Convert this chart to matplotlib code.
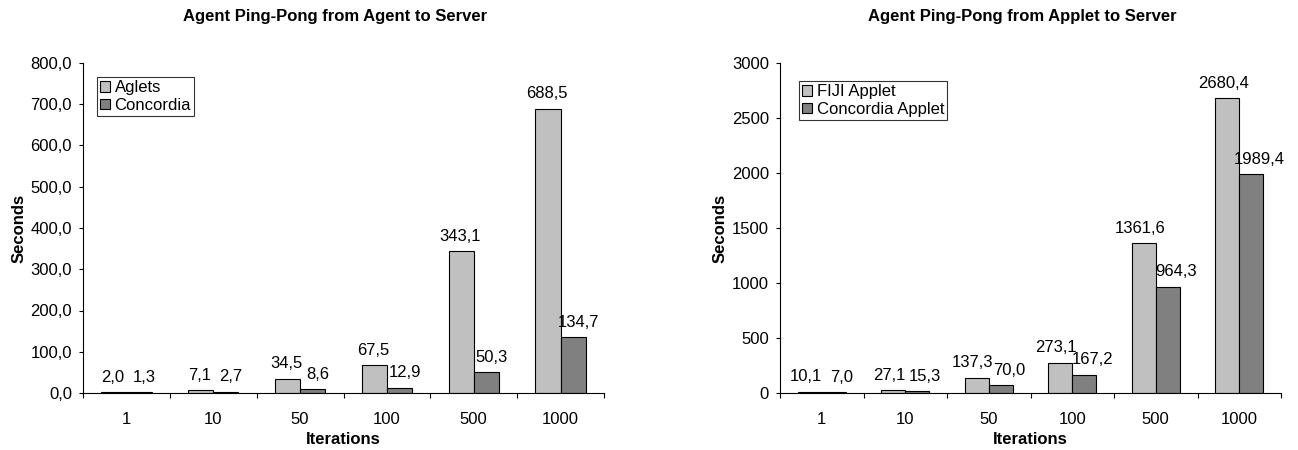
import numpy as np
import matplotlib.pyplot as plt

plt.rcParams['font.family'] = ['Liberation Sans', 'DejaVu Sans']

iterations = ['1', '10', '50', '100', '500', '1000']

aglets = [2.0, 7.1, 34.5, 67.5, 343.1, 688.5]
concordia = [1.3, 2.7, 8.6, 12.9, 50.3, 134.7]

fiji_applet = [10.1, 27.1, 137.3, 273.1, 1361.6, 2680.4]
concordia_applet = [7.0, 15.3, 70.0, 167.2, 964.3, 1989.4]

LIGHT = '#c0c0c0'
DARK = '#808080'
FS = 12


def comma(v):
    return f"{v:.1f}".replace('.', ',')


def draw(ax, a, b, names, title, ymax, ystep, ylabfmt, leg_pos, shift):
    x = np.arange(len(iterations))
    w = 0.29
    ba = ax.bar(x - w / 2, a, w, color=LIGHT, edgecolor='black', linewidth=0.8, label=names[0])
    bb = ax.bar(x + w / 2, b, w, color=DARK, edgecolor='black', linewidth=0.8, label=names[1])
    for bar, v in zip(ba, a):
        ax.annotate(comma(v), (bar.get_x() + bar.get_width() / 2, v),
                    xytext=(-shift[0], 15), textcoords='offset pixels',
                    ha='center', va='center', fontsize=FS)
    for bar, v in zip(bb, b):
        ax.annotate(comma(v), (bar.get_x() + bar.get_width() / 2, v),
                    xytext=(shift[1], 15), textcoords='offset pixels',
                    ha='center', va='center', fontsize=FS)
    ax.set_xlim(-0.5, len(iterations) - 0.5)
    ax.set_ylim(0, ymax)
    yt = np.arange(0, ymax + 1, ystep)
    ax.set_yticks(yt)
    ax.set_yticklabels([ylabfmt(t) for t in yt], fontsize=FS)
    # group separators as major ticks, category names as minor ticks
    ax.set_xticks(np.arange(len(iterations) + 1) - 0.5)
    ax.set_xticklabels([])
    ax.tick_params(axis='x', which='major', direction='out', length=3.6, width=0.8)
    ax.set_xticks(x, minor=True)
    ax.set_xticklabels(iterations, minor=True, fontsize=FS)
    ax.tick_params(axis='x', which='minor', length=0, pad=14)
    ax.tick_params(axis='y', direction='out', length=3, width=0.8, pad=5)
    ax.spines['top'].set_visible(False)
    ax.spines['right'].set_visible(False)
    ax.spines['left'].set_linewidth(0.8)
    ax.spines['bottom'].set_linewidth(0.8)
    ax.set_xlabel('Iterations', fontsize=FS, fontweight='bold', labelpad=3)
    ax.set_ylabel('Seconds', fontsize=FS, fontweight='bold', labelpad=3)
    leg = ax.legend(loc='upper left', bbox_to_anchor=leg_pos, fontsize=FS,
                    frameon=True, fancybox=False, edgecolor='black',
                    handlelength=0.6, handleheight=0.6, handletextpad=0.25,
                    borderpad=0.2, labelspacing=0.15, borderaxespad=0)
    leg.get_frame().set_linewidth(0.8)
    pos = ax.get_position()
    fig.text(pos.x0 + pos.width / 2 - 8 / 1298, 1 - 17 / 450, title,
             ha='center', va='center', fontsize=FS, fontweight='bold')


fig = plt.figure(figsize=(12.98, 4.5), dpi=100)
ax1 = fig.add_axes([83 / 1298, 57 / 450, 521 / 1298, 330 / 450])
ax2 = fig.add_axes([780 / 1298, 57 / 450, 501 / 1298, 330 / 450])

draw(ax1, aglets, concordia, ['Aglets', 'Concordia'],
     'Agent Ping-Pong from Agent to Server', 800, 100, lambda t: comma(t),
     (14 / 521, 1 - 14 / 330), (1, 5))
draw(ax2, fiji_applet, concordia_applet, ['FIJI Applet', 'Concordia Applet'],
     'Agent Ping-Pong from Applet to Server', 3000, 500, lambda t: f"{int(t)}",
     (19 / 501, 1 - 18 / 330), (4, 8))

fig.savefig('out.png', dpi=100)
